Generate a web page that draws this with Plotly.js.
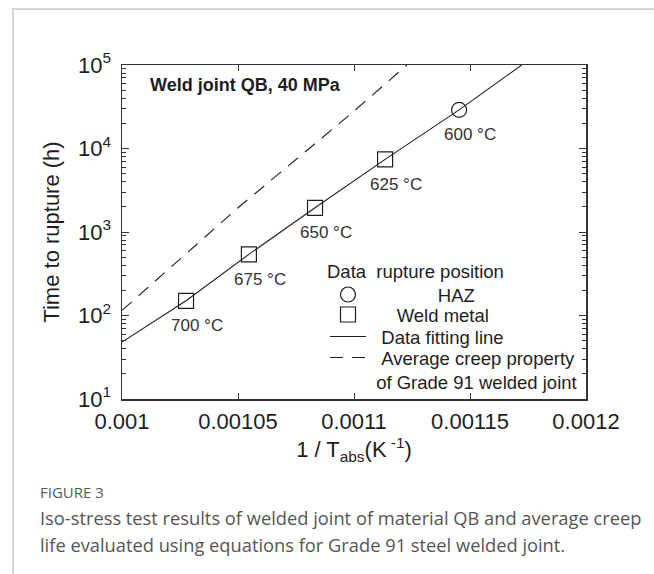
<!DOCTYPE html>
<html>
<head>
<meta charset="utf-8">
<script src="https://cdn.plot.ly/plotly-3.0.1.min.js"></script>
<style>
  html, body { margin: 0; padding: 0; background: #ffffff; }
  #wrap { position: relative; width: 654px; height: 574px; overflow: hidden; }
  #card { position: absolute; left: 12px; top: 8px; width: 700px; height: 620px;
          border-top: 2px solid #d6d6d6; border-left: 2px solid #d6d6d6; }
  #plot { position: absolute; left: 0; top: 0; width: 654px; height: 574px; }
  #figlabel { position: absolute; left: 40px; top: 482px; font-family: "Open Sans", "Noto Sans", sans-serif;
              font-size: 15px; color: #5a5a5a; }
  #caption { position: absolute; left: 40px; top: 504px; width: 612px; font-family: "Open Sans", "Noto Sans", sans-serif;
             font-size: 18.3px; line-height: 27px; color: #555; }
</style>
</head>
<body>
<div id="wrap">
  <div id="card"></div>
  <div id="plot"></div>
  <div id="figlabel">FIGURE 3</div>
  <div id="caption">Iso-stress test results of welded joint of material QB and average creep life evaluated using equations for Grade 91 steel welded joint.</div>
</div>
<script>
// ---- data ----
const hazX = [0.0011453];
const hazY = [29000];
const weldX = [0.0010276, 0.0010547, 0.0010832, 0.0011134];
const weldY = [150, 540, 1950, 7400];
const fitX = [0.001, 0.0010276, 0.0010547, 0.0010832, 0.0011134, 0.0011453, 0.0011723];
const fitY = [48, 150, 540, 1950, 7400, 29000, 100000];
const avgX = [0.001, 0.00105, 0.0011, 0.0011228];
const avgY = [115, 1950, 28000, 100000];
const tempLabels = ['700 °C', '675 °C', '650 °C', '625 °C', '600 °C'];
const tempX = [0.0010276, 0.0010547, 0.0010832, 0.0011134, 0.0011453];
const tempY = [150, 540, 1950, 7400, 29000];
const xTickVals = [0.001, 0.00105, 0.0011, 0.00115, 0.0012];
const xTickText = ['0.001', '0.00105', '0.0011', '0.00115', '0.0012'];
const yTickVals = [10, 100, 1000, 10000, 100000];
const yTickText = ['10<sup>1</sup>', '10<sup>2</sup>', '10<sup>3</sup>', '10<sup>4</sup>', '10<sup>5</sup>'];
const legendHeader = 'Data\u00a0\u00a0rupture position';

const FONT = 'Liberation Sans, Arial, sans-serif';
const INK = '#1e1e1e';
const nb = '\u00a0';
const LFS = 18.5;

const traces = [
  { x: fitX, y: fitY, type: 'scatter', mode: 'lines', name: nb.repeat(2) + 'Data fitting line', legend: 'legend3',
    line: { color: INK, width: 1.1 } },
  { x: avgX, y: avgY, type: 'scatter', mode: 'lines',
    name: nb.repeat(2) + 'Average creep property<br>' + nb + 'of Grade 91 welded joint',
    legend: 'legend4', line: { color: INK, width: 1.1, dash: '13px,9px' } },
  { x: hazX, y: hazY, type: 'scatter', mode: 'markers', name: nb.repeat(13) + 'HAZ', legend: 'legend',
    marker: { symbol: 'circle-open', size: 15, color: INK, line: { width: 1.2, color: INK } } },
  { x: weldX, y: weldY, type: 'scatter', mode: 'markers', name: nb.repeat(5) + 'Weld metal', legend: 'legend2',
    marker: { symbol: 'square-open', size: 15, color: INK, line: { width: 1.2, color: INK } } }
];

const annotations = tempLabels.map((t, i) => ({
  x: tempX[i], y: Math.log10(tempY[i]), xref: 'x', yref: 'y', text: t, showarrow: false,
  xanchor: 'center', yanchor: 'middle', xshift: 11, yshift: -25,
  font: { family: FONT, size: 17, color: '#333' }
}));
annotations.push({
  x: 0.056, y: 0.94, xref: 'paper', yref: 'paper', xanchor: 'left', yanchor: 'middle',
  text: '<b>Weld joint QB, 40 MPa</b>', showarrow: false,
  font: { family: FONT, size: 18, color: INK }
});
annotations.push({
  x: 0.4375, y: 0.383, xref: 'paper', yref: 'paper', xanchor: 'left', yanchor: 'middle',
  text: legendHeader, showarrow: false,
  font: { family: FONT, size: LFS, color: INK }
});

function leg(y) {
  return { x: 0.4375, y: y, xanchor: 'left', yanchor: 'middle', bgcolor: 'rgba(0,0,0,0)', borderwidth: 0,
           font: { family: FONT, size: LFS, color: INK }, valign: 'top', itemwidth: 36 };
}

const layout = {
  width: 654, height: 574,
  margin: { l: 122, r: 68, t: 65, b: 175, pad: 0 },
  paper_bgcolor: 'rgba(0,0,0,0)', plot_bgcolor: 'rgba(0,0,0,0)',
  font: { family: FONT, color: INK },
  showlegend: true,
  legend: leg(0.3114),
  legend2: leg(0.2515),
  legend3: leg(0.1856),
  legend4: leg(0.0868),
  xaxis: {
    range: [0.001, 0.0012], tickmode: 'array', tickvals: xTickVals, ticktext: xTickText,
    ticks: 'inside', ticklen: 6, tickwidth: 1, tickcolor: '#333',
    showline: true, linecolor: '#333', linewidth: 1.5, mirror: 'allticks',
    showgrid: false, zeroline: false, automargin: false,
    tickfont: { family: FONT, size: 22, color: INK }, ticklabelstandoff: 2,
    title: { text: '1 / T<sub>abs</sub>(K<sup> -1</sup>)', font: { family: FONT, size: 22, color: INK }, standoff: 6 }
  },
  yaxis: {
    type: 'log', range: [1, 5], tickmode: 'array', tickvals: yTickVals, ticktext: yTickText,
    ticks: 'inside', ticklen: 7, tickwidth: 1, tickcolor: '#333',
    minor: { ticks: 'inside', ticklen: 4, tickwidth: 1, tickcolor: '#333', dtick: 'D1', showgrid: false },
    showline: true, linecolor: '#333', linewidth: 1.5, mirror: 'allticks',
    showgrid: false, zeroline: false, automargin: false,
    tickfont: { family: FONT, size: 22, color: INK }, ticklabelstandoff: 5,
    title: { text: 'Time to rupture (h)', font: { family: FONT, size: 22, color: INK }, standoff: 12 }
  },
  annotations: annotations
};

Plotly.newPlot('plot', traces, layout, { staticPlot: true, displayModeBar: false });
</script>
</body>
</html>
